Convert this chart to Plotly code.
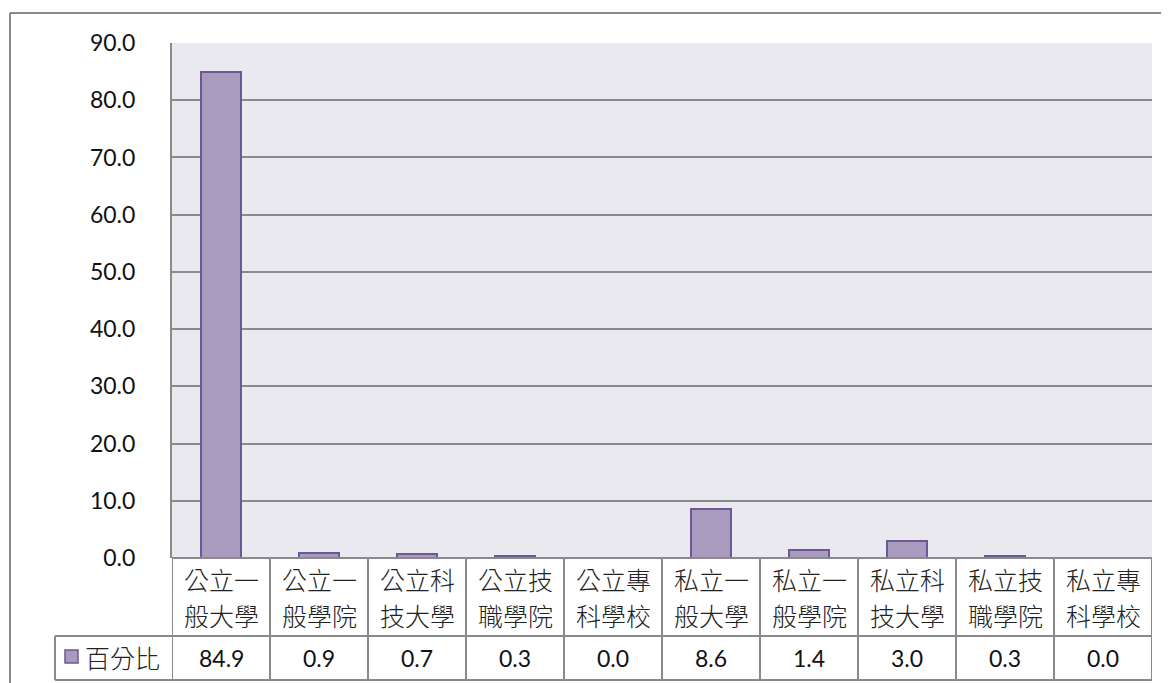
import plotly.graph_objects as go

categories = ["公立一般大學", "公立一般學院", "公立科技大學", "公立技職學院", "公立專科學校",
              "私立一般大學", "私立一般學院", "私立科技大學", "私立技職學院", "私立專科學校"]
values = [84.9, 0.9, 0.7, 0.3, 0.0, 8.6, 1.4, 3.0, 0.3, 0.0]
series_name = "百分比"
y_ticks = [0, 10, 20, 30, 40, 50, 60, 70, 80, 90]

W, H = 1169, 683
OFF = 8  # page body margin
def py(pix):
    return 1 - (pix - OFF) / H
def pxx(pix):
    return (pix - OFF) / W

PLOT_L, PLOT_R, PLOT_T, PLOT_B = 172, 1152, 43, 558
ROW1_B, ROW2_B = 636, 680
LEG_L = 55
GRID = "#8a8a8a"
BAR_FILL = "#a99bbf"
BAR_LINE = "#6c5893"
NUM_FONT = "Lato, 'Open Sans', sans-serif"
CJK_FONT = "'Noto Sans CJK TC', 'Noto Sans CJK SC', sans-serif"

fig = go.Figure()
fig.add_trace(go.Bar(
    x=list(range(len(categories))), y=values, width=0.41,
    marker=dict(color=BAR_FILL, line=dict(color=BAR_LINE, width=2)),
    name=series_name, showlegend=False,
))

shapes = []
annotations = []
line = dict(color=GRID, width=2)

# outer chart border (top + left)
shapes.append(dict(type="line", xref="paper", yref="paper", x0=pxx(10), x1=1.0,
                   y0=py(13), y1=py(13), line=line))
shapes.append(dict(type="line", xref="paper", yref="paper", x0=pxx(10), x1=pxx(10),
                   y0=py(13), y1=0, line=line))

n = len(categories)
for yy in (PLOT_B, ROW1_B, ROW2_B):
    shapes.append(dict(type="line", xref="x", yref="paper", x0=-0.5, x1=n - 0.5,
                       y0=py(yy), y1=py(yy), line=line))
for yy in (ROW1_B, ROW2_B):
    shapes.append(dict(type="line", xref="paper", yref="paper", x0=pxx(LEG_L), x1=pxx(PLOT_L),
                       y0=py(yy), y1=py(yy), line=line))
shapes.append(dict(type="line", xref="paper", yref="paper", x0=pxx(LEG_L), x1=pxx(LEG_L),
                   y0=py(ROW1_B), y1=py(ROW2_B), line=line))
for i in range(n + 1):
    shapes.append(dict(type="line", xref="x", yref="paper", x0=i - 0.5, x1=i - 0.5,
                       y0=py(PLOT_B), y1=py(ROW2_B), line=line))

for i, (c, v) in enumerate(zip(categories, values)):
    half = len(c) // 2
    for k, part in enumerate((c[:half], c[half:])):
        annotations.append(dict(x=i, y=py(579 + 36 * k), xref="x", yref="paper",
                                text=part, showarrow=False, xanchor="center", yanchor="middle",
                                font=dict(family=CJK_FONT, size=25, color="#222", weight=300)))
    annotations.append(dict(x=i, y=py(658), xref="x", yref="paper", text=f"{v:.1f}",
                            showarrow=False, xanchor="center", yanchor="middle",
                            font=dict(family=NUM_FONT, size=23, color="#111")))

shapes.append(dict(type="rect", xref="paper", yref="paper", x0=pxx(65), x1=pxx(78),
                   y0=py(650), y1=py(663), fillcolor=BAR_FILL, line=dict(color=BAR_LINE, width=1.5)))
annotations.append(dict(x=pxx(83), y=py(657), xref="paper", yref="paper", text=series_name,
                        showarrow=False, xanchor="left", yanchor="middle",
                        font=dict(family=CJK_FONT, size=25, color="#222", weight=300)))

fig.update_layout(
    width=W, height=H, autosize=False,
    margin=dict(l=0, r=0, t=0, b=0, pad=0),
    paper_bgcolor="white",
    plot_bgcolor="#ebe9f0",
    bargap=0,
    shapes=shapes,
    annotations=annotations,
    xaxis=dict(domain=[pxx(PLOT_L), pxx(PLOT_R)], range=[-0.5, n - 0.5], automargin=False,
               showticklabels=False, showgrid=False, zeroline=False, showline=False,
               fixedrange=True),
    yaxis=dict(domain=[py(PLOT_B), py(PLOT_T)], range=[0, 90], tickvals=y_ticks, automargin=False,
               ticktext=[f"{t:.1f}" for t in y_ticks], showgrid=True, gridcolor=GRID, gridwidth=2,
               zeroline=False, showline=True, linecolor=GRID, linewidth=2,
               ticks="", ticklabelstandoff=30,
               tickfont=dict(family=NUM_FONT, size=23, color="#111"), fixedrange=True),
    font=dict(family=NUM_FONT),
)

fig.write_html("out.html")
